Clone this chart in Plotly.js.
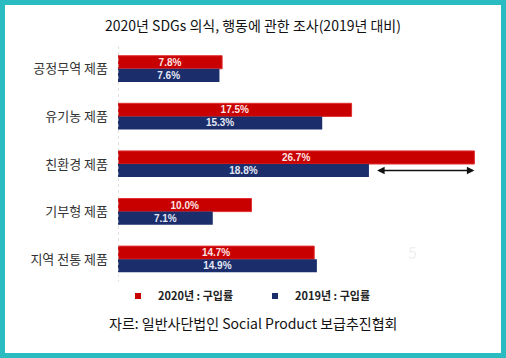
<!DOCTYPE html>
<html><head><meta charset="utf-8">
<script src="https://cdn.plot.ly/plotly-3.0.1.min.js"></script>
<style>
html,body{margin:0;padding:0;background:#fff;}
#frame{width:506px;height:358px;box-sizing:border-box;border:5px solid #2bbcc2;background:#fff;}
#chart{width:496px;height:348px;}
</style></head>
<body><div id="frame"><div id="chart"></div></div>
<script>
const categories = ['공정무역 제품','유기농 제품','친환경 제품','기부형 제품','지역 전통 제품'];
const values2020 = [7.8, 17.5, 26.7, 10.0, 14.7];
const values2019 = [7.6, 15.3, 18.8, 7.1, 14.9];
const seriesNames = ['2020년 : 구입률','2019년 : 구입률'];
const titleText = '2020년 SDGs 의식, 행동에 관한 조사(2019년 대비)';
const sourceText = '자르: 일반사단법인 Social Product 보급추진협회';
const red = '#c80000', blue = '#1b2d6b';
const barText = v => v.map(x => x.toFixed(1) + '%');
const traces = [
  {type:'bar', orientation:'h', y:categories, x:values2020, name:seriesNames[0], showlegend:false,
   marker:{color:red, line:{color:'#e03030', width:1}}, text:barText(values2020), textposition:'inside',
   insidetextanchor:'middle', textangle:0, constraintext:'none',
   textfont:{family:'Liberation Sans, Arial', size:10, color:'#fbe3e3', weight:'bold'}, hoverinfo:'none'},
  {type:'bar', orientation:'h', y:categories, x:values2019, name:seriesNames[1], showlegend:false,
   marker:{color:blue}, text:barText(values2019), textposition:'inside',
   insidetextanchor:'middle', textangle:0, constraintext:'none',
   textfont:{family:'Liberation Sans, Arial', size:10, color:'#e4e7f4', weight:'bold'}, hoverinfo:'none'},
  {type:'scatter', mode:'markers', x:[null], y:[null], name:seriesNames[0], marker:{symbol:'square', size:6, color:red}},
  {type:'scatter', mode:'markers', x:[null], y:[null], name:seriesNames[1], marker:{symbol:'square', size:6, color:blue}}
];
const layout = {
  width:496, height:348,
  margin:{l:113, r:11, t:40, b:70},
  paper_bgcolor:'#fff', plot_bgcolor:'#fff',
  font:{family:'Noto Sans CJK KR, sans-serif', color:'#222'},
  title:{text:titleText, x:0.5, xref:'container', y:0.94, yref:'container', yanchor:'middle', xanchor:'center',
         font:{size:14, color:'#111', family:'Noto Sans CJK KR, sans-serif'}},
  barmode:'group', bargap:0.45, bargroupgap:0,
  xaxis:{range:[0, 27.87], visible:false, fixedrange:true},
  yaxis:{type:'category', autorange:'reversed', showgrid:false, zeroline:false, showline:false,
         ticks:'', ticklabelstandoff:9, tickfont:{size:13, color:'#333', family:'Noto Sans CJK KR, sans-serif'}},
  showlegend:true,
  legend:{orientation:'h', x:0.0, xanchor:'left', y:-0.055, yanchor:'middle', itemwidth:30,
          entrywidth:92, font:{size:11, color:'#222', family:'Noto Sans CJK KR, sans-serif', weight:'bold'}},
  shapes:[{type:'line', xref:'x', yref:'paper', x0:0, x1:0, y0:0, y1:1, line:{color:'#c8c8c8', width:1, dash:'dot'}}],
  annotations:[
    {xref:'x', yref:'y', axref:'x', ayref:'y', x:26.7, y:2.1375, ax:19.3, ay:2.1375, text:'', showarrow:true,
     arrowhead:2, arrowside:'end+start', arrowsize:1, arrowwidth:1.5, arrowcolor:'#111'},
    {xref:'paper', yref:'paper', x:0.363, y:-0.168, xanchor:'center', yanchor:'middle', showarrow:false,
     text:sourceText, font:{size:14, color:'#111', family:'Noto Sans CJK KR, sans-serif'}},
    {xref:'paper', yref:'paper', x:0.81, y:0.07, showarrow:false, text:'5', font:{size:16, color:'#f0f0f0'}}
  ]
};
Plotly.newPlot('chart', traces, layout, {displayModeBar:false, staticPlot:true});
</script></body></html>
